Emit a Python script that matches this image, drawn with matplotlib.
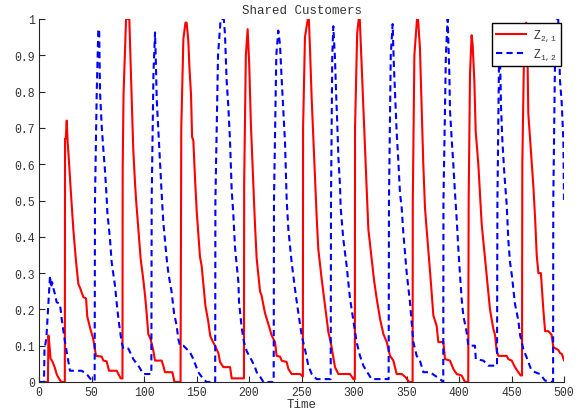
import matplotlib
matplotlib.use("Agg")
import matplotlib.pyplot as plt


# ==========================
# DATA
# ==========================

red_t = [0, 8.5, 9, 10, 11, 13, 15, 17, 21, 24.6,
         24.8, 25.5, 26.4, 27.3, 28.6, 30.2, 32.7, 35.2, 37.5, 39, 42.2, 44.8, 46, 48.6,
         51.7, 54.3, 59.7, 61.3, 64.4, 66.7, 74, 77.8, 79.5,
         79.7, 80.5, 82.9, 86, 87.3, 88.6, 89.8, 91.4, 92.4, 94.6, 96.8, 99.4, 101, 102.5,
         104.1, 106.3, 108.9, 110.5, 116.8, 118.4, 120, 127, 129, 134.8,
         135.5, 137.5, 139.5, 140.6, 142.2, 143.2, 144.8, 145.8, 147, 148.6, 150.2, 151.7,
         153.3, 154.9, 156.5, 158.5, 161.3, 163, 164.4, 167.6, 170.8, 172.4, 175.6, 182,
         183.5, 195.2,
         195.4, 197, 198.7, 200.2, 201.8, 204, 205.6, 207.3, 210.5, 212, 215.2, 218.4,
         221.6, 224.8, 226.3, 229.5, 231.1, 235.9, 237.5, 240.6, 248.6, 251.3,
         251.5, 253.3, 256, 257, 258.1, 259.7, 261.3, 262.9, 264.4, 266, 269.2, 272.4,
         275.6, 277.8, 280.3, 281.9, 285.1, 296.2, 299.4, 300.8,
         301, 303, 304.5, 305.5, 307.3, 308.9, 310.5, 312.1, 313.7, 316.8, 319.1, 321.6,
         324.8, 328, 331.2, 334.3, 337.5, 340.6, 345.5, 349.2, 352.4, 355.8,
         356, 357.5, 360, 361, 362.8, 364.4, 366, 367.6, 369.2, 372.4, 375.6, 378.7,
         380.3, 385.1, 386.7, 391.4, 394.6, 397.8, 402.5, 405.7, 408.8,
         409.2, 410.5, 412, 413, 414.6, 415.9, 418.4, 420, 421.6, 424.8, 427.5, 429.5,
         432.7, 434.3, 435.9, 437.5, 445.4, 447, 450.2, 453.3, 456.5, 458.7, 460,
         460.3, 462, 464, 465, 466, 468.6, 470.8, 472.5, 474, 475.6, 478, 480.3, 482,
         485.1, 488.2, 489.8, 494.6, 496.2, 498, 500]
red_z = [0, 0, 0.128, 0.10, 0.065, 0.055, 0.04, 0.02, 0, 0,
         0.67, 0.67, 0.72, 0.66, 0.605, 0.53, 0.42, 0.334, 0.27, 0.26, 0.234, 0.23, 0.18, 0.15,
         0.118, 0.072, 0.07, 0.059, 0.057, 0.031, 0.031, 0.01, 0.01,
         0.59, 0.79, 1.0, 1.0, 0.87, 0.75, 0.64, 0.55, 0.504, 0.42, 0.34, 0.28, 0.238, 0.19,
         0.132, 0.118, 0.086, 0.059, 0.059, 0.045, 0.027, 0.027, 0, 0,
         0.70, 0.945, 0.99, 0.99, 0.94, 0.87, 0.79, 0.675, 0.665, 0.56, 0.47, 0.41,
         0.345, 0.32, 0.27, 0.21, 0.165, 0.128, 0.118, 0.1, 0.08, 0.055, 0.041, 0.041,
         0.01, 0.01,
         0.55, 0.9, 0.972, 0.876, 0.71, 0.55, 0.44, 0.34, 0.25, 0.238, 0.19, 0.16,
         0.128, 0.11, 0.072, 0.07, 0.059, 0.055, 0.036, 0.022, 0.022, 0.015,
         0.7, 0.95, 1.0, 1.0, 0.917, 0.78, 0.67, 0.56, 0.458, 0.366, 0.284, 0.21,
         0.137, 0.11, 0.068, 0.041, 0.022, 0.022, 0.008, 0.008,
         0.7, 0.96, 1.0, 1.0, 0.87, 0.75, 0.64, 0.53, 0.42, 0.34, 0.28, 0.23,
         0.174, 0.132, 0.11, 0.072, 0.059, 0.022, 0.022, 0.013, 0, 0,
         0.5, 0.9, 1.0, 1.0, 0.92, 0.76, 0.6, 0.48, 0.42, 0.305, 0.183, 0.155,
         0.11, 0.11, 0.063, 0.059, 0.036, 0.022, 0.018, 0, 0,
         0.5, 0.85, 0.955, 0.93, 0.83, 0.69, 0.6, 0.515, 0.435, 0.34, 0.26, 0.2,
         0.146, 0.13, 0.085, 0.072, 0.072, 0.063, 0.059, 0.041, 0.027, 0.018, 0.018,
         0.6, 0.92, 0.99, 0.95, 0.74, 0.63, 0.54, 0.45, 0.35, 0.3, 0.3, 0.2, 0.14,
         0.14, 0.13, 0.096, 0.088, 0.08, 0.077, 0.06]

blue_t = [0, 4.8, 5.2, 7, 10.5, 11.5, 12.5, 13.5, 15.2, 16.8, 20, 21.6, 24.8, 27, 29.5,
          40.6, 45.4, 50.2, 53,
          53.3, 55, 56.5, 57.3, 58.1, 59.7, 61.3, 62.9, 64.4, 65.1, 67.6, 69.2, 72.4,
          74.6, 76.5, 78.7, 80.3, 85.1, 89.8, 94.6, 99.4, 105.7, 107,
          107.3, 109, 110.5, 111.4, 112.1, 113.7, 115.2, 116.8, 118.4, 120, 121.6, 123.2,
          126.3, 128.6, 131.1, 132.7, 134.3, 137.5, 143.8, 147, 151.7, 156.5, 159.7, 167.8,
          168, 170.5, 173, 176, 177.1, 178.7, 180.3, 181.9, 183.5, 185.1, 186.7, 189.9,
          190.5, 193, 195.2, 197.8, 202.5, 205.7, 207.3, 210.5, 213.7, 223.5,
          223.8, 226, 227.9, 229.5, 231.1, 232.7, 234.3, 235.9, 237.5, 240.6, 243.8, 247,
          250.2, 254.3, 256.5, 259.7, 264.4, 277.8,
          278.1, 279.3, 280.3, 281.9, 282.9, 284.1, 285.1, 286.7, 287.3, 289.8, 293, 296.2,
          299.4, 302.5, 305.7, 308.9, 313.7, 316.8, 333,
          333.3, 335, 336.8, 338, 339.3, 340.6, 342.2, 343.8, 345.4, 347, 350.2, 353.3,
          356.5, 359.7, 362.8, 366, 372.4, 381.9, 385,
          385.2, 387.5, 389.2, 389.8, 390.8, 391.4, 393, 394.6, 396.2, 397.8, 399.4, 401,
          402.5, 404.1, 407.3, 408.9, 415.2, 416, 423.2, 427.9, 436.2,
          436.6, 438.5, 440, 441.3, 443.2, 445.4, 447, 448.6, 450.5, 453.3, 456.5, 458.1,
          461.3, 464.4, 468.6, 472.4, 477.2, 481.9, 489.6,
          489.8, 491.5, 493, 494.5, 496.2, 497.8, 499.4, 500]
blue_z = [0, 0, 0.09, 0.12, 0.293, 0.26, 0.275, 0.26, 0.242, 0.22, 0.215, 0.174, 0.11, 0.072, 0.031,
          0.031, 0.022, 0.004, 0.004,
          0.5, 0.8, 0.972, 0.972, 0.8, 0.706, 0.64, 0.58, 0.51, 0.467, 0.394, 0.33, 0.265,
          0.2, 0.155, 0.11, 0.092, 0.092, 0.063, 0.045, 0.022, 0.022, 0.022,
          0.5, 0.85, 0.963, 0.87, 0.78, 0.69, 0.61, 0.52, 0.44, 0.39, 0.34, 0.3,
          0.248, 0.19, 0.155, 0.118, 0.1, 0.1, 0.082, 0.063, 0.027, 0.008, 0, 0,
          0.5, 0.9, 1.0, 1.0, 0.959, 0.83, 0.76, 0.665, 0.53, 0.46, 0.37, 0.275,
          0.22, 0.15, 0.11, 0.085, 0.06, 0.041, 0.027, 0.015, 0, 0,
          0.5, 0.9, 0.968, 0.93, 0.835, 0.75, 0.66, 0.5, 0.42, 0.33, 0.256, 0.19,
          0.128, 0.077, 0.045, 0.022, 0.008, 0.008,
          0.5, 0.9, 0.98, 0.89, 0.8, 0.71, 0.62, 0.54, 0.48, 0.394, 0.32, 0.23,
          0.17, 0.11, 0.072, 0.045, 0.022, 0.008, 0.008,
          0.5, 0.9, 0.986, 0.87, 0.78, 0.69, 0.61, 0.52, 0.48, 0.41, 0.3, 0.22,
          0.11, 0.072, 0.059, 0.027, 0.027, 0.008, 0,
          0.5, 0.9, 1.0, 0.945, 0.85, 0.75, 0.67, 0.6, 0.52, 0.449, 0.366, 0.293,
          0.23, 0.183, 0.137, 0.1, 0.1, 0.063, 0.059, 0.045, 0.045,
          0.5, 0.98, 0.76, 0.665, 0.573, 0.49, 0.39, 0.33, 0.29, 0.215, 0.17, 0.13,
          0.09, 0.068, 0.035, 0.027, 0.022, 0.004, 0,
          0.5, 0.9, 1.0, 1.0, 0.83, 0.77, 0.665, 0.5]

x_ticks = [0, 50, 100, 150, 200, 250, 300, 350, 400, 450, 500]
y_ticks = [0, 0.1, 0.2, 0.3, 0.4, 0.5, 0.6, 0.7, 0.8, 0.9, 1]
y_tick_labels = ["0", "0.1", "0.2", "0.3", "0.4", "0.5", "0.6", "0.7", "0.8", "0.9", "1"]


# ==========================
# STYLE
# ==========================

mono = "Liberation Mono"
text_col = "#333333"

plt.rcParams["font.family"] = [mono, "DejaVu Sans Mono"]
plt.rcParams["mathtext.fontset"] = "custom"
plt.rcParams["mathtext.rm"] = mono
plt.rcParams["mathtext.it"] = mono


# ==========================
# PLOT
# ==========================

fig = plt.figure(figsize=(5.85, 4.10), dpi=100)
ax = fig.add_axes([39 / 585, 1 - 383 / 410, 525 / 585, 363 / 410])

ax.plot(red_t, red_z, color="#ff0000", lw=1.5,
        label=r"Z$_{\mathrm{2,1}}$")
ax.plot(blue_t, blue_z, color="#0000ff", lw=1.5, dashes=(3, 2),
        label=r"Z$_{\mathrm{1,2}}$")

ax.set_xlim(0, 500)
ax.set_ylim(0, 1)
ax.set_xticks(x_ticks)
ax.set_yticks(y_ticks)
ax.set_yticklabels(y_tick_labels)

for side in ["top", "right"]:
    ax.spines[side].set_visible(False)
for side in ["left", "bottom"]:
    ax.spines[side].set_color("#262626")
    ax.spines[side].set_linewidth(0.8)

ax.tick_params(direction="in", length=4, width=0.8, colors="#262626",
               labelsize=8.3, labelcolor=text_col, pad=3)

ax.set_title("Shared Customers", fontsize=9, color=text_col, pad=4)
ax.set_xlabel("Time", fontsize=9, color=text_col, labelpad=0)

leg = ax.legend(loc="upper right", bbox_to_anchor=(0.994, 0.989),
                borderaxespad=0, fancybox=False, framealpha=1,
                edgecolor="black", fontsize=8.3, handlelength=2.6,
                handletextpad=0.6, borderpad=0.35, labelspacing=0.3)
leg.get_frame().set_linewidth(1.0)
for t in leg.get_texts():
    t.set_color(text_col)

fig.savefig("out.png", dpi=100)
